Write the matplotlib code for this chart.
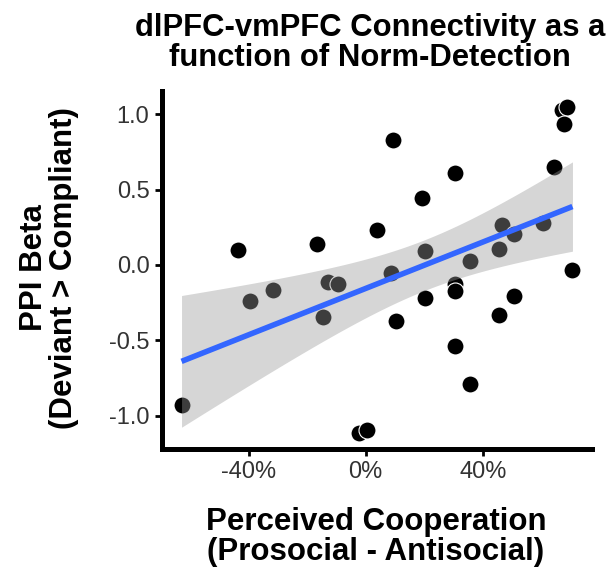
import numpy as np
import matplotlib
matplotlib.use("Agg")
import matplotlib.pyplot as plt
from matplotlib.ticker import FuncFormatter

# Perceived cooperation (%) and PPI beta values
cooperation = [-43.7, -16.7, 4.0, 9.4, 67.0, 68.9, 67.6, 64.4, 30.5, 19.2,
               46.7, 50.5, 60.4, 20.3, 45.5, 35.6, 8.5, 70.6, -31.6, -39.5,
               -13.0, -9.6, -14.5, -62.9, -2.3, 0.6, 30.5, 30.5, 20.3, 10.5,
               50.5, 45.5, 30.5, 35.6]
ppi_beta = [0.096, 0.14, 0.23, 0.826, 1.031, 1.046, 0.936, 0.65, 0.61, 0.444,
            0.267, 0.206, 0.276, 0.091, 0.107, 0.025, -0.054, -0.036, -0.164, -0.241,
            -0.113, -0.124, -0.349, -0.932, -1.114, -1.097, -0.124, -0.173, -0.223, -0.371,
            -0.208, -0.333, -0.538, -0.789]
x_ticks = [-40, 0, 40]
y_ticks = [-1.0, -0.5, 0.0, 0.5, 1.0]

plt.rcParams['font.family'] = ['Liberation Sans', 'DejaVu Sans']

W, H = 613, 569
fig = plt.figure(figsize=(W / 100, H / 100), dpi=100)
L, R, T, B = 162, 592, 91, 449
ax = fig.add_axes([L / W, 1 - B / H, (R - L) / W, (B - T) / H])

x = np.array(cooperation)
y = np.array(ppi_beta)

ax.scatter(x, y, s=150, c='black', edgecolors='white', linewidths=0.8, zorder=2)

# linear fit with 95% CI
n = len(x)
slope, intercept = np.polyfit(x, y, 1)
xs = np.linspace(x.min(), x.max(), 200)
yhat = intercept + slope * xs
resid = y - (intercept + slope * x)
s = np.sqrt(np.sum(resid ** 2) / (n - 2))
se = s * np.sqrt(1 / n + (xs - x.mean()) ** 2 / np.sum((x - x.mean()) ** 2))
tval = 2.037
ax.fill_between(xs, yhat - tval * se, yhat + tval * se, color='#999999', alpha=0.4,
                linewidth=0, zorder=3)
ax.plot(xs, yhat, color='#3366FF', linewidth=4, zorder=4, solid_capstyle='butt')

xr = x.max() - x.min()
yr = y.max() - y.min()
ax.set_xlim(x.min() - 0.05 * xr, x.max() + 0.05 * xr)
ax.set_ylim(y.min() - 0.05 * yr, y.max() + 0.05 * yr)

ax.set_xticks(x_ticks)
ax.set_yticks(y_ticks)
ax.xaxis.set_major_formatter(FuncFormatter(lambda v, p: f"{v:.0f}%"))
ax.yaxis.set_major_formatter(FuncFormatter(lambda v, p: f"{v:.1f}"))
ax.tick_params(axis='both', length=5, width=2, color='black', labelsize=17,
               labelcolor='#333333', pad=4)

for side in ['top', 'right']:
    ax.spines[side].set_visible(False)
for side in ['left', 'bottom']:
    ax.spines[side].set_linewidth(3.6)
    ax.spines[side].set_color('black')

fig.text(370 / W, 1 - 43 / H, "dlPFC-vmPFC Connectivity as a\nfunction of Norm-Detection",
         ha='center', va='center', fontsize=22.3, fontweight='bold', linespacing=1.0)
fig.text(376 / W, 1 - 537 / H, "Perceived Cooperation\n(Prosocial - Antisocial)",
         ha='center', va='center', fontsize=22.5, fontweight='bold', linespacing=0.98)
fig.text(49 / W, 1 - 268 / H, "PPI Beta\n(Deviant > Compliant)", rotation=90,
         ha='center', va='center', fontsize=22.5, fontweight='bold', linespacing=0.98)

fig.savefig("out.png", dpi=100)
